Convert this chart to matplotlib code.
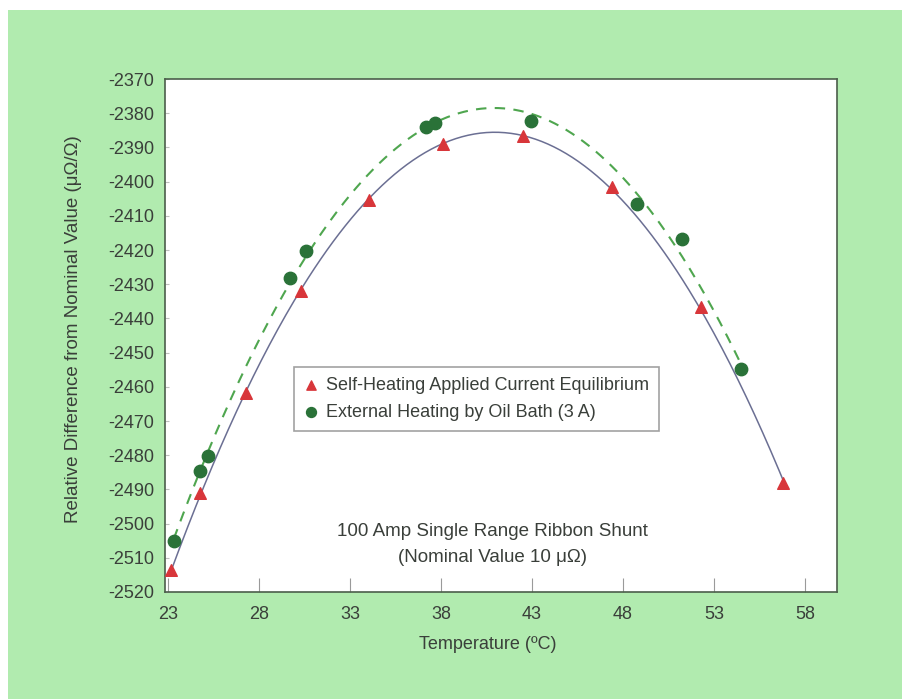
import numpy as np
import matplotlib
matplotlib.use('Agg')
import matplotlib.pyplot as plt
from matplotlib.patches import Rectangle

plt.rcParams['font.family'] = ['Liberation Sans', 'DejaVu Sans']
plt.rcParams['axes.unicode_minus'] = False

# Self-heating runs (applied current equilibrium)
self_temp = [23.2, 24.76, 27.3, 30.33, 34.03, 38.1, 42.49, 47.37, 52.27, 56.79]
self_diff = [-2513.6, -2491.0, -2461.9, -2432.0, -2405.4, -2389.0, -2386.7, -2401.5, -2436.6, -2488.2]

# External heating in oil bath (3 A)
oil_temp = [23.33, 24.76, 25.2, 29.73, 30.61, 37.19, 37.7, 42.95, 48.77, 51.26, 54.47]
oil_diff = [-2505.1, -2484.6, -2480.1, -2428.3, -2420.3, -2383.9, -2382.8, -2382.2, -2406.5, -2416.9, -2454.8]

xticks = [23, 28, 33, 38, 43, 48, 53, 58]
yticks = list(range(-2520, -2369, 10))

bg = '#b1ebaf'
txt = '#3a3f3a'

fig = plt.figure(figsize=(9.02, 6.99), dpi=100, facecolor='white')
fig.patches.append(Rectangle((8 / 902, 0), 1, 1 - 10 / 699, transform=fig.transFigure,
                             facecolor=bg, edgecolor='none', zorder=-10))
ax = fig.add_axes([165 / 902, 1 - 592 / 699, 672 / 902, 513 / 699])
ax.set_facecolor('white')

# quadratic fits through each data set
p_self = np.polyfit(self_temp, self_diff, 2)
p_oil = np.polyfit(oil_temp, oil_diff, 2)
xs = np.linspace(min(self_temp), max(self_temp), 300)
xo = np.linspace(min(oil_temp), max(oil_temp), 300)
ax.plot(xs, np.polyval(p_self, xs), color='#6b6f93', lw=1.1, zorder=2)
ax.plot(xo, np.polyval(p_oil, xo), color='#4fa64f', lw=1.5, ls=(0, (5, 4)), zorder=2)

ax.scatter(self_temp, self_diff, marker='^', s=70, color='#d8363a', zorder=3,
           label='Self-Heating Applied Current Equilibrium')
ax.scatter(oil_temp, oil_diff, marker='o', s=80, color='#2a7238', zorder=3,
           label='External Heating by Oil Bath (3 A)')

ax.set_xlim(22.85, 59.75)
ax.set_ylim(-2520, -2370)
ax.set_xticks(xticks)
ax.set_yticks(yticks)
ax.tick_params(axis='x', direction='in', length=10, color='#9a9a9a', pad=10,
               labelsize=13, labelcolor=txt)
ax.tick_params(axis='y', direction='in', length=3, color='#c0c0c0', pad=8,
               labelsize=13, labelcolor=txt)
for s in ax.spines.values():
    s.set_color('#4b5e4b')
    s.set_linewidth(1.2)

ax.set_xlabel('Temperature (ºC)', fontsize=13, color=txt)
ax.xaxis.set_label_coords(0.48, -0.086)
ax.set_ylabel('Relative Difference from Nominal Value (μΩ/Ω)', fontsize=13.5, color=txt)
ax.yaxis.set_label_coords(-0.124, 0.513)

leg = ax.legend(loc='upper left', bbox_to_anchor=(0.192, 0.4386), borderaxespad=0,
                fancybox=False, edgecolor='#8a8a8a', fontsize=13, handletextpad=0.4,
                handlelength=0.8, borderpad=0.55, labelspacing=0.55, markerscale=0.8)
leg.get_frame().set_linewidth(1.2)
for t in leg.get_texts():
    t.set_color(txt)

ax.text(0.488, 0.0926, '100 Amp Single Range Ribbon Shunt\n(Nominal Value 10 μΩ)',
        transform=ax.transAxes, ha='center', va='center', fontsize=13.5,
        color=txt, linespacing=1.65)

fig.savefig('out.png', dpi=100, facecolor=fig.get_facecolor())
